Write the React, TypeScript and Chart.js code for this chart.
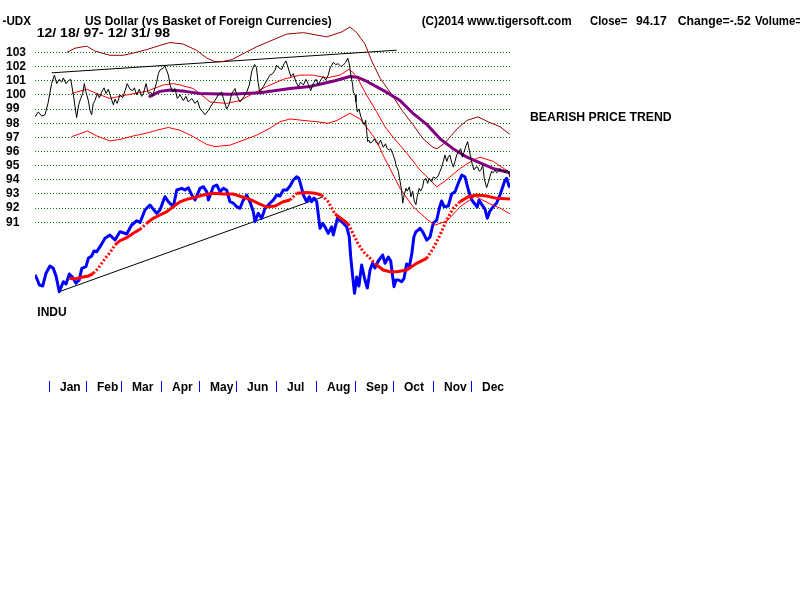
import React, { useEffect, useRef } from "react";
import { Chart, registerables } from "chart.js";

Chart.register(...registerables);

const FONT = '"Liberation Sans", Arial, Helvetica, sans-serif';

// Y axis tick labels (US Dollar index)
const udxTicks = [91, 92, 93, 94, 95, 96, 97, 98, 99, 100, 101, 102, 103];

// Month labels and the trading-day index (since 12/18/97) of each month's first session
const monthLabels = ["Jan", "Feb", "Mar", "Apr", "May", "Jun", "Jul", "Aug", "Sep", "Oct", "Nov", "Dec"];
const monthStartDays = [9, 29, 48, 70, 91, 111, 133, 155, 176, 197, 219, 240];

// [trading day, value]
const udxPrice: [number, number][] = [
  [0, 98.45], [1.8, 98.8], [3.7, 98.5], [5.5, 98.6], [7.1, 99.4], [9.1, 100.8], [10.6, 101.4], [11.9, 100.8],
  [13.3, 101.1], [14.6, 100.9], [15.5, 101.2], [17, 100.8], [18.2, 101.0], [19.5, 101.1], [20.1, 100.7], [21, 100.0],
  [21.9, 99.2], [22.8, 98.4], [23.9, 99.3], [25, 99.75], [26.1, 100.1], [27, 100.8], [27.9, 100.2], [29.2, 99.6],
  [30.1, 98.9], [31, 98.6], [31.9, 99.4], [32.8, 99.6], [34.1, 100.1], [35.2, 99.8], [36.5, 100.2], [37.8, 100.5],
  [38.9, 100.1], [40.1, 100.4], [41.1, 100.0], [42.9, 99.3], [43.8, 99.7], [45, 99.4], [46.5, 100.0], [48, 99.8],
  [49.3, 100.3], [50.5, 100.8], [52, 100.4], [53.5, 100.3], [54.4, 100.5], [55.7, 100.0], [57.1, 100.4], [58.4, 99.9],
  [59.3, 100.1], [60.8, 100.8], [62, 100.1], [63.3, 100.2], [64.4, 99.9], [65.7, 100.5], [66.6, 100.9], [67.5, 101.5],
  [68.4, 101.75], [70.2, 101.9], [71.1, 102.05], [73, 101.4], [73.9, 100.7], [75.4, 100.2], [76.6, 100.45], [77.9, 99.75],
  [79.4, 100.0], [81.2, 99.6], [82.6, 99.9], [83.9, 99.5], [85.8, 99.75], [87.6, 99.4], [88.9, 99.6], [90.3, 99.05],
  [91.8, 98.8], [93, 98.6], [94.9, 98.9], [96.7, 99.3], [98.5, 99.6], [100.3, 100.0], [102.2, 100.2], [103.1, 99.75],
  [104.9, 99.0], [106.2, 99.3], [107.7, 100.1], [109.5, 100.45], [110.7, 99.9], [112.2, 99.5], [114, 99.8], [115.9, 100.2],
  [117.3, 100.7], [118.8, 101.75], [120.2, 102.15], [121.2, 101.95], [122.1, 100.9], [123, 100.2], [125, 100.6], [127.7, 101.2],
  [128.6, 101.4], [130, 101.5], [131.4, 101.75],
  [132.3, 102.1], [133.6, 101.9], [135, 101.8], [136.3, 102.2], [137.4, 102.4], [138.6, 101.9], [140, 101.3], [141.4, 101.5],
  [142.9, 100.9], [144.1, 100.6], [145.4, 100.9], [146.9, 100.7], [148.3, 101.1], [149.6, 100.75], [150.9, 100.3], [152.3, 100.8],
  [153.8, 101.1], [155.1, 100.75], [156.4, 101.05], [157.8, 101.3], [159.1, 101.05], [160.5, 101.4], [161.5, 101.9], [162.4, 102.1],
  [163.3, 102.3], [164.6, 102.15], [166, 102.2], [167.5, 102.0], [168.7, 102.1], [170.1, 102.3], [171.2, 102.6], [172, 102.2],
  [173, 101.3], [173.9, 100.7], [174.2, 100.2], [175.2, 100.0], [175.7, 99.5], [176.4, 98.8], [177.3, 99.0], [178.3, 98.5],
  [179.4, 98.1], [180.2, 97.9], [181, 98.2], [181.5, 97.5], [182.1, 96.7], [182.8, 96.8], [183.4, 96.6], [184.8, 96.7],
  [185.7, 96.9], [187, 96.6], [187.9, 96.5], [189.2, 96.8], [190.6, 96.3], [191.9, 96.55], [192.8, 96.2], [193.9, 96.1],
  [194.7, 96.2], [196.1, 95.75], [197, 95.4], [197.6, 95.05], [198.9, 94.6], [200.2, 93.6], [200.7, 93.2], [201.3, 92.35],
  [202, 92.9], [203.1, 93.4], [203.8, 93.2], [204.9, 93.5], [205.8, 92.8], [206.7, 93.2], [207.6, 92.5], [208.5, 92.25],
  [209.2, 92.8], [210.3, 93.4], [211.1, 93.2], [212.2, 93.5], [212.9, 94.0], [214, 94.1], [214.9, 93.75], [215.8, 94.1],
  [217.1, 93.85], [218, 94.2], [219.5, 94.1], [220.7, 94.3], [221.7, 94.6], [222.6, 94.9], [223.5, 95.3], [224.4, 95.75],
  [225.4, 95.3], [226.2, 95.6], [227.1, 95.75], [228.1, 95.2], [229, 94.9], [229.9, 95.3], [230.8, 95.75], [232.1, 96.0],
  [233, 96.2], [233.9, 95.6], [234.8, 95.95], [235.9, 96.4], [236.8, 96.7], [237.7, 96.1], [238.5, 95.6], [239.4, 95.05],
  [240.3, 94.7], [241.4, 94.9], [242.3, 94.9], [243.2, 94.6], [244.1, 94.7], [245.1, 95.05], [245.9, 94.1], [247.2, 93.45],
  [248.1, 93.8], [249, 94.2], [249.9, 94.6], [250.8, 94.5], [251.8, 94.7], [252.7, 94.5], [253.6, 94.6], [254.5, 94.8],
  [255.4, 94.6], [256.3, 94.7], [257.3, 94.5], [258.2, 94.7], [259.1, 94.6], [260, 94.17],
];

const udxUpperBand: [number, number][] = [
  [17.4, 103.0], [21.9, 103.3], [28.3, 103.45], [32.8, 103.1], [41, 102.8], [48.2, 102.8], [53.6, 102.95], [61.1, 103.2],
  [68.4, 103.5], [73.9, 103.7], [81, 103.6], [88.5, 103.15], [94, 102.6], [98.5, 102.35], [102.4, 102.35], [107.8, 102.5],
  [113.8, 102.9], [121.3, 103.4], [128.6, 103.8], [137.8, 104.3], [146.9, 104.4], [159.7, 104.1], [167.9, 104.45], [172.4, 104.8],
  [176.1, 104.4], [180.6, 103.6], [184.3, 102.4], [188.8, 101.2], [195.4, 100.0], [200.9, 98.9], [206.9, 97.9], [212.4, 96.9],
  [217.8, 96.3], [220, 96.2], [224.4, 96.6], [231, 97.6], [236.5, 98.2], [242.5, 98.45], [248, 98.1], [254.6, 97.75], [260, 97.2],
];

const udxMidAverage: [number, number][] = [
  [20.1, 100.1], [28.3, 100.4], [35.6, 100.0], [41, 99.75], [50.2, 100.0], [61.1, 100.25], [70.2, 100.7], [75.7, 100.8],
  [79.4, 100.7], [86.6, 100.45], [91.2, 100.0], [95.8, 99.5], [104.9, 99.4], [112.2, 99.6], [119.5, 100.1], [126.8, 100.6],
  [135.9, 101.1], [145, 101.4], [152.3, 101.4], [159.7, 101.2], [166.9, 101.4], [171.8, 101.8], [174, 101.6], [176.8, 101.1],
  [181.5, 100.0], [187, 98.8], [191.6, 97.75], [196.1, 97.0], [203.4, 95.9], [210.7, 94.7], [216.2, 94.0], [219.9, 93.5],
  [225.3, 94.0], [232.6, 94.8], [239.9, 95.4], [243.6, 95.6], [250.9, 95.3], [260, 94.5],
];

const udxLowerBand: [number, number][] = [
  [20.1, 97.05], [24.6, 97.25], [28.6, 97.45], [33.8, 97.1], [41, 96.75], [46.5, 96.85], [53.8, 97.1], [61.1, 97.3],
  [66.6, 97.5], [73, 97.7], [79.4, 97.5], [86.6, 97.05], [94, 96.5], [98.5, 96.35], [106.7, 96.45], [114, 96.8],
  [121.3, 97.15], [128.6, 97.65], [134.1, 98.1], [139.6, 98.3], [146.7, 98.2], [154.3, 98.1], [160.4, 98.0], [165.3, 98.2],
  [172.4, 98.7], [177.9, 98.3], [183.4, 97.4], [187.2, 96.7], [190.5, 95.75], [194.3, 94.8], [199.8, 93.4], [206.9, 92.1],
  [214.6, 91.2], [219, 90.8], [225.6, 91.1], [232.7, 92.1], [241, 92.85], [249, 92.3], [254.6, 92.0], [260, 91.6],
];

const udxLongAverage: [number, number][] = [
  [62.9, 99.9], [68.4, 100.25], [73.9, 100.35], [82.1, 100.25], [90.3, 100.1], [106.7, 100.05], [123.2, 100.15], [139.6, 100.45],
  [150.5, 100.6], [164.2, 101.0], [172.4, 101.3], [176.3, 101.25], [181.7, 100.95], [191.6, 100.25], [199.8, 99.6], [206.9, 98.7],
  [214.6, 97.9], [221.7, 96.9], [228.8, 96.2], [236.5, 95.6], [243.6, 95.2], [250.7, 94.8], [260, 94.5],
];

const udxTrendLine: [number, number][] = [[9.1, 101.56], [198, 103.16]];

// Dow Jones Industrials (INDU), plotted on its own unlabelled scale
const induClose: [number, number][] = [
  [0, 7829], [1.1, 7768], [2.4, 7676], [4.2, 7660], [6, 7855], [8.2, 7967], [10, 7932], [11.5, 7814],
  [13.3, 7573], [15.5, 7726], [17, 7691], [18.8, 7845], [20.6, 7794], [22.4, 7702], [24.2, 7752], [25.6, 7932],
  [27.9, 7957], [29.2, 8085], [31, 8121], [32.3, 8198], [33.8, 8187], [35.6, 8264], [38.3, 8392], [41, 8443],
  [43.8, 8366], [46.5, 8494], [50.2, 8458], [52.9, 8597], [55.7, 8662], [57.5, 8635], [60.2, 8827], [62.9, 8904],
  [66.6, 8776], [68.4, 8827], [71.1, 9031], [73, 8954], [75.7, 8878], [77.6, 9134], [80.3, 9160], [82.1, 9134],
  [83.9, 9169], [85.8, 9057], [87.6, 8980], [90.3, 9160], [92.1, 9185], [94, 9108], [94.9, 8980], [97.6, 9185],
  [99.5, 9211], [101.3, 9108], [103.1, 9160], [104.9, 9134], [106.7, 8954], [108.5, 8934], [110.4, 8878], [112.2, 8853],
  [114, 8980], [115.9, 9057], [117.7, 8950], [119.5, 8801], [120.4, 8647], [122.2, 8776], [124.1, 8699], [125.9, 8853],
  [127.7, 8904], [128.6, 8930], [130.4, 8980], [132.3, 9057], [134.1, 9042], [135.9, 9134], [137.8, 9134], [139.6, 9195],
  [141.4, 9287], [143.2, 9338], [144.5, 9310], [146, 9160], [146.9, 9057], [148.7, 8954], [150.1, 9031], [151.4, 8954],
  [152.7, 9011], [154.2, 8954], [155.1, 8750], [156, 8546], [157.5, 8623], [158.7, 8570], [160.5, 8469], [162.4, 8570],
  [163.3, 8443], [165.5, 8699], [167.9, 8647], [170.6, 8570], [172, 8417], [172.8, 8110], [173.9, 7803], [174.9, 7548],
  [176.1, 7798], [177.3, 7660], [178.8, 7983], [180.6, 7752], [181.9, 7630], [183.4, 7906], [184.8, 8013], [186.1, 7937],
  [187.9, 8044], [190.3, 8136], [191.6, 8009], [193.4, 8105], [194.7, 8044], [195.8, 7803], [196.5, 7650], [197.6, 7752],
  [198.9, 7752], [200.7, 7726], [202, 7778], [203.4, 7998], [205, 7967], [206.3, 8167], [207.4, 8417], [208.5, 8494],
  [209.8, 8520], [210.7, 8546], [212.2, 8494], [214.4, 8366], [216.2, 8412], [218, 8627], [219.9, 8673], [221.3, 8853],
  [222.6, 8965], [223.9, 8878], [226.2, 8888], [228.1, 9072], [229.9, 9108], [231.7, 9237], [233.6, 9364], [235.4, 9333],
  [237.2, 9134], [239.1, 8980], [240.8, 8919], [242.1, 8873], [243, 8980], [244.7, 8904], [246.3, 8842], [247.6, 8699],
  [249, 8811], [250.8, 8878], [252.7, 8934], [254.5, 9057], [255.8, 9165], [257.3, 9287], [258.2, 9313], [259.6, 9185],
  [260, 9181],
];

const induAverage: [number, number][] = [
  [18.8, 7778], [21.9, 7768], [25.6, 7794], [29.2, 7814], [31.9, 7855], [34.6, 7932], [36.5, 8009], [38.9, 8101],
  [41, 8171], [43.8, 8290], [46.5, 8356], [50.2, 8402], [53.8, 8469], [57.5, 8531], [61.1, 8623], [64.7, 8699],
  [68.4, 8750], [72.1, 8801], [75.7, 8878], [79.4, 8954], [83, 8991], [86.6, 9016], [92.1, 9057], [97.6, 9083],
  [103.1, 9072], [108.5, 9072], [113.1, 9031], [117.7, 8991], [122.2, 8930], [126.8, 8873], [131.4, 8888], [135.9, 8954],
  [139.6, 8980], [143.2, 9083], [148.7, 9095], [153.3, 9083], [156.9, 9057], [160.5, 8954], [164.2, 8765], [167.9, 8688],
  [171.5, 8612], [174.2, 8458], [176.9, 8305], [179.7, 8187], [183.4, 8085], [187, 7983], [190.6, 7906], [194.3, 7880],
  [198, 7880], [203.4, 7906], [208.9, 8009], [214.4, 8085], [218, 8239], [221.7, 8443], [225.3, 8673], [228.9, 8853],
  [232.6, 8954], [237.2, 9031], [241.8, 9057], [247.2, 9042], [252.7, 9006], [260, 8996],
];

const induTrendLine: [number, number][] = [[13.3, 7573], [157.8, 9031]];

const toPoints = (s: [number, number][]) => s.map(([x, y]) => ({ x, y }));

const textPlugin = {
  id: "tigerText",
  afterDraw(chart: any) {
    const ctx: CanvasRenderingContext2D = chart.ctx;
    ctx.save();
    ctx.fillStyle = "#000";
    ctx.font = `bold 12px ${FONT}`;
    ctx.textAlign = "left";
    ctx.textBaseline = "alphabetic";
    const put = (text: string, x: number, y: number, w?: number) => {
      if (!w) {
        ctx.fillText(text, x, y);
        return;
      }
      const m = ctx.measureText(text).width;
      ctx.save();
      ctx.translate(x, y);
      ctx.scale(w / m, 1);
      ctx.fillText(text, 0, 0);
      ctx.restore();
    };
    put("-UDX", 2.5, 25, 28.5);
    put("US Dollar (vs Basket of Foreign Currencies)", 85, 25, 246.7);
    put("12/ 18/ 97- 12/ 31/ 98", 36.7, 37, 133.3);
    put("(C)2014 www.tigersoft.com", 421.7, 25, 150);
    put("Close=", 590, 25, 37.3);
    put("94.17", 636, 25, 30.7);
    put("Change=-.52", 677.7, 25, 73);
    put("Volume=", 755, 25, 47);
    put("BEARISH PRICE TREND", 530, 121, 141.7);
    put("INDU", 37.3, 316, 29.4);

    const xs = chart.scales.x;
    ctx.strokeStyle = "#0000ff";
    ctx.lineWidth = 1;
    monthStartDays.forEach((d, i) => {
      const px = Math.round(xs.getPixelForValue(d - 1.1)) + 0.5;
      ctx.beginPath();
      ctx.moveTo(px, 381);
      ctx.lineTo(px, 392);
      ctx.stroke();
      put(monthLabels[i], px + 10.5, 391);
    });
    ctx.restore();
  },
};

export default function App() {
  const ref = useRef<HTMLCanvasElement | null>(null);

  useEffect(() => {
    if (!ref.current) return;
    const line = (data: any, color: string, width: number, extra: any = {}) => ({
      data: toPoints(data),
      borderColor: color,
      backgroundColor: color,
      borderWidth: width,
      pointRadius: 0,
      tension: 0,
      fill: false,
      yAxisID: "y",
      ...extra,
    });
    const chart = new Chart(ref.current, {
      type: "line",
      data: {
        datasets: [
          line(udxPrice, "#000000", 1),
          line(udxLongAverage, "#800080", 3, { borderJoinStyle: "round", borderCapStyle: "round" }),
          line(udxMidAverage, "#ff0000", 1),
          line(udxLowerBand, "#ff0000", 1),
          line(udxUpperBand, "#990000", 1),
          line(udxTrendLine, "#000000", 1),
          line(induAverage, "#ff0000", 3, {
            yAxisID: "y2",
            segment: {
              borderDash: (c: any) => {
                const dx = Math.abs(c.p1.x - c.p0.x);
                const dy = Math.abs(c.p1.y - c.p0.y);
                return dy > dx * 0.9 ? [2, 2] : undefined;
              },
            },
          }),
          line(induClose, "#0000ff", 3, { yAxisID: "y2", borderJoinStyle: "round" }),
          line(induTrendLine, "#000000", 1, { yAxisID: "y2" }),
        ],
      },
      options: {
        responsive: false,
        animation: false,
        events: [],
        layout: { padding: { left: 6, top: 10, right: 290, bottom: 290 } },
        plugins: { legend: { display: false }, tooltip: { enabled: false }, title: { display: false } },
        scales: {
          x: { type: "linear", display: false, min: 0, max: 260 },
          y: {
            type: "linear",
            position: "left",
            min: 84.8,
            max: 106,
            afterBuildTicks: (s: any) => {
              s.ticks = udxTicks.map((v) => ({ value: v }));
            },
            afterFit: (s: any) => {
              s.width = 29;
              s.paddingTop = 0;
              s.paddingBottom = 0;
            },
            grid: { color: "#008000", lineWidth: 1, drawTicks: false, tickLength: 0 },
            border: { display: false, dash: [1, 2] },
            ticks: {
              color: "#000",
              font: { family: FONT, size: 12, weight: "bold" },
              crossAlign: "far",
              padding: 0,
              autoSkip: false,
            },
          },
          y2: { type: "linear", display: false, min: 7292, max: 11897 },
        },
      },
      plugins: [textPlugin],
    });
    return () => chart.destroy();
  }, []);

  return (
    <div style={{ position: "absolute", left: 0, top: 0, width: 800, height: 600, background: "#fff" }}>
      <canvas ref={ref} width={800} height={600} style={{ display: "block" }} />
    </div>
  );
}
